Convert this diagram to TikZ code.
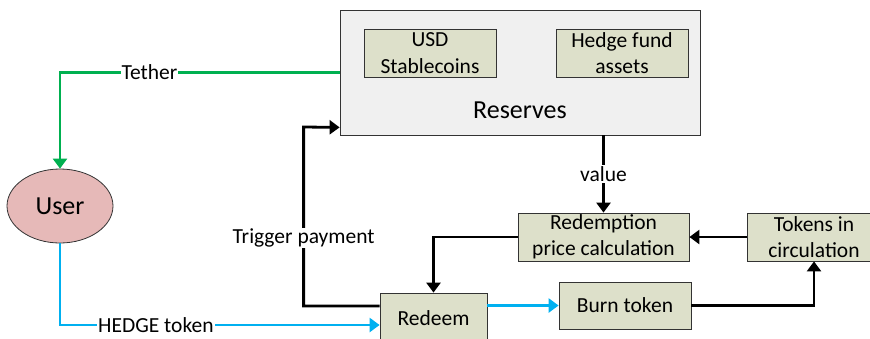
\documentclass[tikz,border=0pt]{standalone}
\usepackage{fontspec}
\setmainfont{Carlito}
\usetikzlibrary{shapes.geometric,arrows.meta}
\definecolor{resgray}{HTML}{F0F0F0}
\definecolor{boxkhaki}{HTML}{DDE0CA}
\definecolor{userpink}{HTML}{E6B9B8}
\definecolor{tethergreen}{HTML}{00B050}
\definecolor{hedgeblue}{HTML}{00B0F0}
\tikzset{
	resbox/.style={draw=black!80,line width=0.8pt,fill=resgray,minimum width=360pt,minimum height=125pt},
	itembox/.style={draw=black!80,line width=0.8pt,fill=boxkhaki,align=center,inner sep=0pt},
	userbubble/.style={ellipse,draw=black!80,line width=0.8pt,fill=userpink,minimum width=106pt,minimum height=74pt,font=\fontsize{26}{29}\selectfont},
	flow/.style={line width=2.8pt,-{Triangle[width=14pt,length=10pt]}},
	blackflow/.style={flow,black},
	greenflow/.style={flow,tethergreen},
	blueflow/.style={flow,hedgeblue},
	flowlabel/.style={fill=white,text=black,inner sep=1pt}
}
\begin{document}
\begin{tikzpicture}[x=1pt,y=-1pt,font=\fontsize{21.5}{26.5}\selectfont]
	\useasboundingbox (0,0) rectangle (870,338);
	% reserves and what they hold
	\node[resbox] (reserves) at (520,72.5) {};
	\node at (520,110) {\fontsize{26}{29}\selectfont Reserves};
	\node[itembox,minimum width=132pt,minimum height=48pt] (usd) at (430,53) {USD\\Stablecoins};
	\node[itembox,minimum width=132pt,minimum height=48pt] (hedge) at (622,53) {Hedge fund\\assets};
	% user
	\node[userbubble] (user) at (60,206) {User};
	% redemption side
	\node[itembox,minimum width=171pt,minimum height=48pt] (redemption) at (603.5,237) {Redemption\\price calculation};
	\node[itembox,minimum width=134pt,minimum height=48pt] (tokens) at (814,237) {Tokens in\\circulation};
	\node[itembox,minimum width=107pt,minimum height=50pt] (redeem) at (433.5,318) {Redeem};
	\node[itembox,minimum width=132pt,minimum height=47pt] (burn) at (625,305.5) {Burn token};
	% connectors
	\draw[greenflow] (reserves.west) -| node[flowlabel,pos=0.34]{Tether} (user.north);
	\draw[blueflow] (user.south) |- node[flowlabel,pos=0.65]{HEDGE token} ([yshift=-7pt]redeem.west);
	\draw[blackflow] ([yshift=12pt]redeem.west) -| ++(-76,-179) node[flowlabel,pos=0.69]{Trigger payment} -- ([yshift=8pt]reserves.south west);
	\draw[blackflow] (reserves.south -| redemption.north) -- node[flowlabel]{value} (redemption.north);
	\draw[blackflow] (tokens.west) -- (redemption.east);
	\draw[blackflow] (redemption.west) -| (redeem.north);
	\draw[blueflow] (redeem.east |- burn.west) -- (burn.west);
	\draw[blackflow] (burn.east) -| (tokens.south);
\end{tikzpicture}
\end{document}
